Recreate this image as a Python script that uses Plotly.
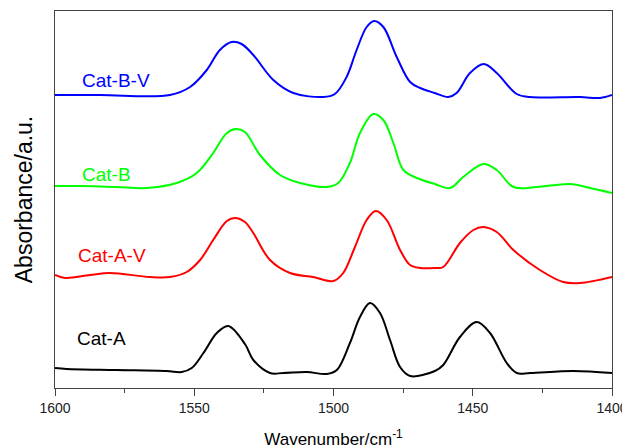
import plotly.graph_objects as go

# Wavenumber (cm^-1) and absorbance (a.u., offset stacked)
wn_bv = [1600.0, 1583.8, 1558.7, 1551.5, 1545.5, 1540.8, 1536.6, 1533.0, 1528.8, 1521.6, 1514.4, 1503.7,
         1499.5, 1495.3, 1491.7, 1488.1, 1485.4, 1482.1, 1477.3, 1472.5, 1468.9, 1463.6, 1458.8, 1455.8,
         1451.0, 1446.0, 1441.4, 1434.2, 1429.4, 1411.5, 1404.3, 1400.0]
ab_bv = [2.93, 2.93, 2.93, 3.01, 3.18, 3.38, 3.46, 3.44, 3.33, 3.08, 2.95, 2.91,
         2.94, 3.11, 3.38, 3.61, 3.67, 3.61, 3.31, 3.06, 3.00, 2.95, 2.91, 2.95,
         3.15, 3.24, 3.15, 2.94, 2.91, 2.91, 2.90, 2.93]

wn_b = [1600.0, 1589.8, 1577.8, 1567.1, 1556.3, 1549.1, 1543.2, 1538.3, 1534.8, 1531.8, 1526.4, 1519.2,
        1512.0, 1502.4, 1498.3, 1494.1, 1490.5, 1485.7, 1482.1, 1478.5, 1474.9, 1470.1, 1463.6, 1458.2,
        1453.4, 1446.2, 1441.4, 1435.4, 1427.0, 1415.1, 1407.9, 1400.0]
ab_b = [2.02, 2.02, 2.01, 2.00, 2.05, 2.15, 2.35, 2.55, 2.59, 2.56, 2.33, 2.13,
        2.05, 2.01, 2.05, 2.25, 2.55, 2.74, 2.68, 2.45, 2.18, 2.10, 2.04, 2.00,
        2.11, 2.24, 2.18, 2.01, 2.01, 2.04, 2.00, 1.95]

wn_av = [1600.0, 1596.4, 1587.4, 1580.3, 1565.9, 1558.7, 1552.7, 1547.9, 1543.2, 1538.3, 1535.4, 1531.8,
         1528.8, 1522.8, 1515.6, 1507.3, 1500.1, 1496.5, 1492.3, 1488.1, 1484.8, 1480.9, 1476.1, 1472.5,
         1468.9, 1463.6, 1460.6, 1454.6, 1449.8, 1446.2, 1441.4, 1435.4, 1425.9, 1417.5, 1411.5, 1400.0]
ab_av = [1.13, 1.10, 1.13, 1.15, 1.11, 1.11, 1.16, 1.28, 1.48, 1.67, 1.70, 1.66,
         1.55, 1.28, 1.15, 1.11, 1.07, 1.15, 1.41, 1.68, 1.77, 1.68, 1.38, 1.23,
         1.20, 1.20, 1.21, 1.45, 1.58, 1.61, 1.56, 1.38, 1.18, 1.06, 1.05, 1.11]

wn_a = [1600.0, 1595.8, 1577.8, 1559.9, 1554.5, 1550.9, 1546.7, 1541.9, 1537.8, 1531.8, 1528.8, 1522.8,
        1518.0, 1509.6, 1502.4, 1498.8, 1494.1, 1490.5, 1486.9, 1483.3, 1479.7, 1476.1, 1472.5, 1463.6,
        1460.6, 1454.6, 1448.6, 1443.8, 1437.8, 1434.2, 1429.4, 1413.9, 1400.0]
ab_a = [0.20, 0.19, 0.18, 0.17, 0.16, 0.20, 0.35, 0.55, 0.62, 0.44, 0.28, 0.15,
        0.15, 0.16, 0.14, 0.18, 0.45, 0.71, 0.85, 0.75, 0.48, 0.21, 0.12, 0.17,
        0.23, 0.51, 0.66, 0.55, 0.25, 0.15, 0.15, 0.17, 0.15]

series_names = ["Cat-B-V", "Cat-B", "Cat-A-V", "Cat-A"]
series_colors = ["#0000FF", "#00FF00", "#FF0000", "#000000"]
label_x = [1591.0, 1591.0, 1592.4, 1592.8]
label_y = [3.08, 2.14, 1.33, 0.50]

x_ticks = [1600, 1550, 1500, 1450, 1400]

fig = go.Figure()
for wn, ab, name, col in zip([wn_bv, wn_b, wn_av, wn_a], [ab_bv, ab_b, ab_av, ab_a],
                             series_names, series_colors):
    fig.add_trace(go.Scatter(x=wn, y=ab, mode="lines", name=name,
                             line=dict(color=col, width=2, shape="spline", smoothing=1.0),
                             showlegend=False))

for name, col, lx, ly in zip(series_names, series_colors, label_x, label_y):
    fig.add_annotation(x=lx, y=ly, text=name, showarrow=False, xanchor="left", yanchor="middle",
                       font=dict(family="Liberation Sans, Arial", size=19, color=col))

fig.update_layout(
    width=630, height=448,
    margin=dict(l=47, r=26, t=3, b=68),
    paper_bgcolor="white", plot_bgcolor="white",
    font=dict(family="Liberation Sans, Arial", color="#000000"),
    xaxis=dict(range=[1600, 1400], tickvals=x_ticks, ticktext=[str(t) for t in x_ticks],
               ticks="outside", ticklen=7, tickcolor="#444", showline=True, linecolor="#444",
               linewidth=1, mirror=True, showgrid=False, zeroline=False, automargin=False,
               tickfont=dict(size=14, color="#222"),
               minor=dict(dtick=25, tick0=1600, ticks="outside", ticklen=4, tickcolor="#444"),
               title=dict(text="Wavenumber/cm<sup>-1</sup>", font=dict(size=17), standoff=18)),
    yaxis=dict(range=[0, 3.77], showticklabels=False, ticks="", showline=True, linecolor="#444",
               linewidth=1, mirror=True, showgrid=False, zeroline=False, automargin=False,
               title=dict(text="Absorbance/a.u.", font=dict(size=23), standoff=14)),
)

fig.write_html("out.html")
